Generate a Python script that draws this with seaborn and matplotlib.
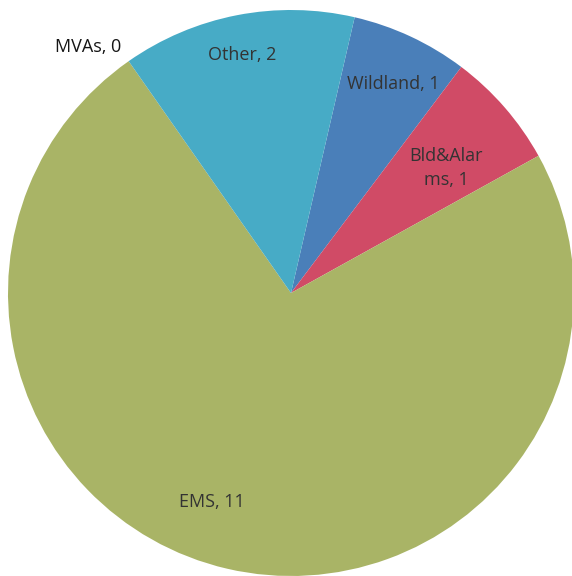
import matplotlib
matplotlib.use("Agg")
import matplotlib.pyplot as plt
import seaborn as sns

sns.set_theme(style="white")
plt.rcParams['font.family'] = ['Open Sans', 'DejaVu Sans']

# call counts by category (clockwise from the top)
categories = ['Wildland', 'Bld&Alarms', 'EMS', 'MVAs', 'Other']
counts = [1, 1, 11, 0, 2]
colors = ['#4a7fb9', '#d04b66', '#a9b466', '#7f6fa8', '#47abc6']

# label text as shown on the chart, and where each sits (in pie radius units)
label_text = ['Wildland, 1', 'Bld&Alar\nms, 1', 'EMS, 11', 'MVAs, 0', 'Other, 2']
label_xy = [(0.36, 0.74), (0.548, 0.442), (-0.279, -0.739), (-0.717, 0.869), (-0.173, 0.841)]

fig = plt.figure(figsize=(5.72, 5.76), dpi=100)
ax = fig.add_axes([0, 0, 1, 1])

ax.pie(counts, colors=colors, startangle=77, counterclock=False,
       radius=1, center=(0, 0), wedgeprops=dict(linewidth=0))

for txt, (x, y), n in zip(label_text, label_xy, counts):
    ax.text(x, y, txt, ha='center', va='center', fontsize=13,
            color='#151515' if n == 0 else '#333333', linespacing=1.45)

# place the circle like the original (center ~ (291, 293) px, radius ~283 px)
R = 283.0
ax.set_xlim(-291 / R, (572 - 291) / R)
ax.set_ylim(-(576 - 293) / R, 293 / R)
ax.set_aspect('equal')
ax.axis('off')

fig.savefig('out.png', dpi=100)
